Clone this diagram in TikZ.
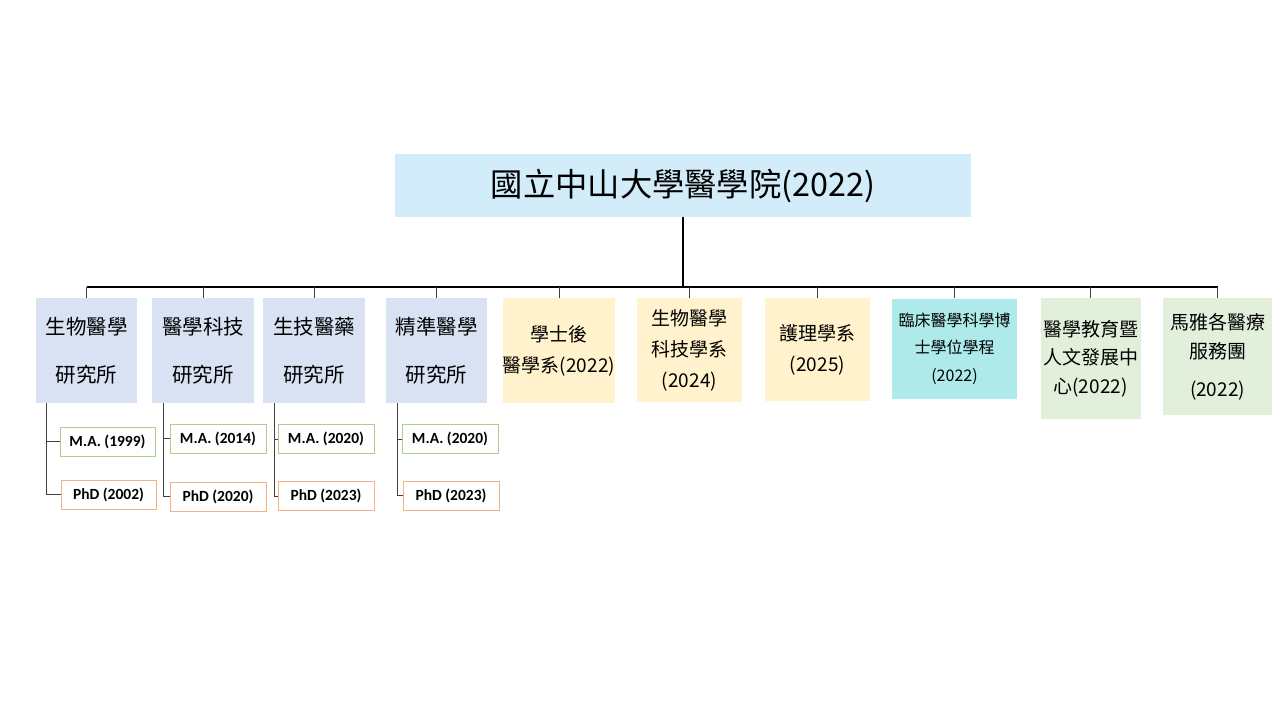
\documentclass[tikz,border=0pt]{standalone}
\usepackage{fontspec}
\setmainfont{Carlito}
\newfontfamily\cjk{Noto Sans CJK TC}
\definecolor{topblue}{HTML}{D3ECFA}
\definecolor{instblue}{HTML}{D9E2F3}
\definecolor{deptyellow}{HTML}{FFF2CC}
\definecolor{progcyan}{HTML}{AEEAEA}
\definecolor{centgreen}{HTML}{E2EFDA}
\definecolor{magreen}{HTML}{A9D08E}
\definecolor{phdorange}{HTML}{F4B183}
\begin{document}
\begin{tikzpicture}[x=1pt,y=-1pt,
  box/.style={inner sep=0pt,align=center,text=black},
  inst/.style={box,fill=instblue,minimum height=105pt,font=\cjk\fontsize{20.5}{48}\selectfont},
  dept/.style={box,fill=deptyellow,font=\cjk\fontsize{19}{31}\selectfont},
  sub/.style={box,draw,line width=0.6pt,minimum width=95pt,minimum height=29pt,font=\bfseries\fontsize{15.5}{18}\selectfont},
  ma/.style={sub,draw=magreen},
  phd/.style={sub,draw=phdorange},
  bus/.style={line width=1.4pt,black},
  link/.style={line width=0.8pt,black!75}]
\useasboundingbox (0,0) rectangle (1280,720);
\fill[white] (0,0) rectangle (1280,720);

\node[box,fill=topblue,minimum width=576pt,minimum height=63pt,font=\cjk\fontsize{32.3}{36}\selectfont] (top) at (683,185.5) {國立中山大學醫學院(2022)};

\node[inst,minimum width=101pt] (b1) at (86.5,350.5) {生物醫學\\研究所};
\node[inst,minimum width=102pt] (b2) at (203,350.5) {醫學科技\\研究所};
\node[inst,minimum width=102pt] (b3) at (314,350.5) {生技醫藥\\研究所};
\node[inst,minimum width=101pt] (b4) at (436.5,350.5) {精準醫學\\研究所};
\node[dept,minimum width=112pt,minimum height=105pt] (b5) at (559,350.5) {學士後\\醫學系(2022)};
\node[dept,minimum width=105pt,minimum height=104pt] (b6) at (689.5,350) {生物醫學\\科技學系\\(2024)};
\node[dept,minimum width=105pt,minimum height=103pt] (b7) at (817.5,349.5) {護理學系\\(2025)};
\node[box,fill=progcyan,minimum width=125pt,minimum height=100pt,font=\cjk\fontsize{16}{27.5}\selectfont] (b8) at (954.5,348.5) {臨床醫學科學博\\士學位學程\\(2022)};
\node[box,fill=centgreen,minimum width=100pt,minimum height=121pt,font=\cjk\fontsize{19}{28.5}\selectfont] (b9) at (1090.5,358.5) {醫學教育暨\\人文發展中\\心(2022)};
\node[box,fill=centgreen,minimum width=109pt,minimum height=117pt,font=\cjk\fontsize{19}{29}\selectfont] (b10) at (1217.5,356.5) {馬雅各醫療\\服務團\\[9pt](2022)};

\coordinate (busL) at (86.5,287);
\draw[bus] (top.south) -- (top.south |- busL);
\draw[bus] (b1.north |- busL) -- (b10.north |- busL);
\foreach \n in {b1,b2,b3,b4,b5,b6,b7,b8,b9,b10}
  \draw[link] (\n.north |- busL) -- (\n.north);

\node[ma] (m1) at (107.5,441.5) {M.A. (1999)};
\node[phd] (p1) at (108.5,494.5) {PhD (2002)};
\node[ma,minimum width=96pt] (m2) at (218,438.5) {M.A. (2014)};
\node[phd,minimum width=96pt] (p2) at (218,496.5) {PhD (2020)};
\node[ma,minimum width=96pt] (m3) at (326,439) {M.A. (2020)};
\node[phd,minimum width=96pt] (p3) at (326,496) {PhD (2023)};
\node[ma,minimum width=96pt] (m4) at (450,439) {M.A. (2020)};
\node[phd,minimum width=96pt] (p4) at (451,495.5) {PhD (2023)};

\coordinate (v1) at (46,403);
\coordinate (v2) at (163,403);
\coordinate (v3) at (274,403);
\coordinate (v4) at (397,403);
\foreach \i in {1,2,3,4}{
  \draw[link] (v\i) |- (p\i.west);
  \draw[link] (v\i |- m\i.west) -- (m\i.west);
}
\end{tikzpicture}
\end{document}
